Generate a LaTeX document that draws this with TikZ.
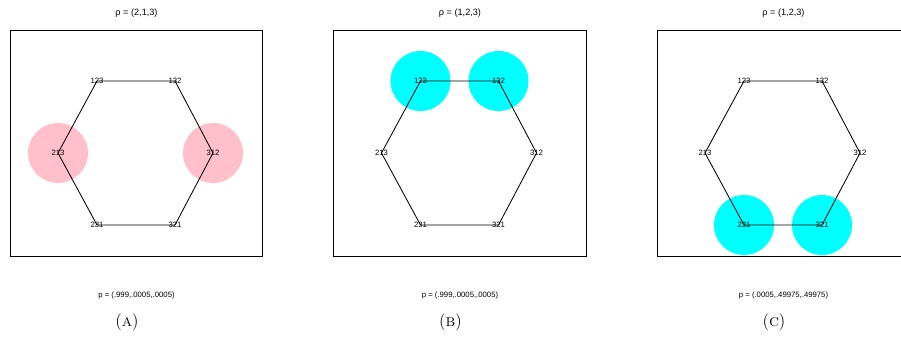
\documentclass[tikz,border=0pt]{standalone}
\usepackage{fontspec}
\newfontfamily\plotfont{Liberation Sans}
\usepackage{xcolor}
\usepackage{tikz}
\usetikzlibrary{backgrounds}
\definecolor{hexpink}{RGB}{255,192,203}
\definecolor{hexcyan}{RGB}{0,255,255}

\begin{document}
\begin{tikzpicture}[
    x=0.025cm, y=-0.025cm,
    perm/.style={font=\plotfont\fontsize{5.5}{6.5}\selectfont, inner sep=0pt},
    plottitle/.style={font=\plotfont\fontsize{6.5}{7.5}\selectfont, inner sep=0pt},
    problabel/.style={font=\plotfont\fontsize{5.5}{6.5}\selectfont, inner sep=0pt},
    subcap/.style={font=\large, inner sep=0pt},
    panel/.style={draw=black, line width=0.7pt, minimum width=6.3cm, minimum height=5.625cm, inner sep=0pt},
    hexedge/.style={draw=black, line width=0.6pt}
]
\useasboundingbox (0,0) rectangle (901,341);
\clip (0,0) rectangle (901,341);

% one panel per ordering: box, hexagon of permutations, highlighted states
\foreach \pn/\dx/\rh/\pr/\hl/\hc in {
    a/10.5/{(2,1,3)}/{(.999,.0005,.0005)}/{213,312}/hexpink,
    b/334/{(1,2,3)}/{(.999,.0005,.0005)}/{123,132}/hexcyan,
    c/657.5/{(1,2,3)}/{(.0005,.49975,.49975)}/{231,321}/hexcyan}{
  \node[panel] (\pn box) at (\dx+126,143.5) {};
  \node[plottitle] (\pn title) at (\dx+126,13.5) {ρ = \rh};
  \node[problabel] (\pn prob) at (\dx+126,295) {p = \pr};
  \node[subcap] (\pn cap) at (\dx+116.5,322) {(\textsc{\pn})};

  \node[perm] (\pn123) at (\dx+86.5,81) {123};
  \node[perm] (\pn132) at (\dx+164.5,81) {132};
  \node[perm] (\pn213) at (\dx+47.5,153) {213};
  \node[perm] (\pn312) at (\dx+202.5,153) {312};
  \node[perm] (\pn231) at (\dx+86.5,225) {231};
  \node[perm] (\pn321) at (\dx+164.5,225) {321};

  \begin{pgfonlayer}{background}
    \foreach \h in \hl {
      \fill[\hc] (\pn\h.center) circle[radius=30];
    }
    \draw[hexedge] (\pn123.center) -- (\pn132.center) -- (\pn312.center)
      -- (\pn321.center) -- (\pn231.center) -- (\pn213.center) -- cycle;
  \end{pgfonlayer}
}
\end{tikzpicture}
\end{document}
